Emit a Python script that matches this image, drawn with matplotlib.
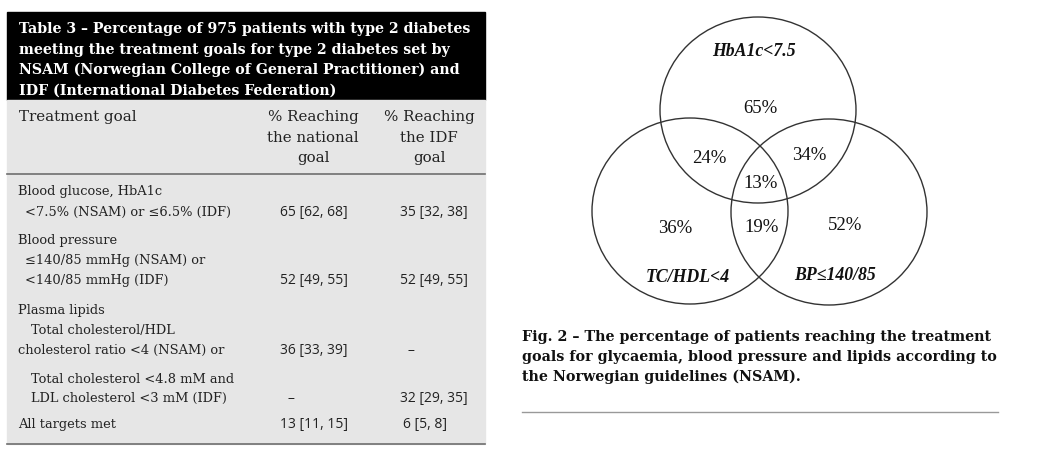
import matplotlib
matplotlib.use('Agg')
import matplotlib.pyplot as plt
from matplotlib.patches import Rectangle, Ellipse

# ---- data ----
title_lines = ['Table 3 \u2013 Percentage of 975 patients with type 2 diabetes',
               'meeting the treatment goals for type 2 diabetes set by',
               'NSAM (Norwegian College of General Practitioner) and',
               'IDF (International Diabetes Federation)']
col_heads = ['Treatment goal', '% Reaching\nthe national\ngoal', '% Reaching\nthe IDF\ngoal']

# (text, indent, y) for the goal column
goal_lines = [('Blood glucose, HbA1c', 0, 191),
              ('<7.5% (NSAM) or \u22646.5% (IDF)', 1, 212),
              ('Blood pressure', 0, 240),
              ('\u2264140/85 mmHg (NSAM) or', 1, 260),
              ('<140/85 mmHg (IDF)', 1, 280),
              ('Plasma lipids', 0, 310),
              ('Total cholesterol/HDL', 2, 330),
              ('cholesterol ratio <4 (NSAM) or', 0, 350),
              ('Total cholesterol <4.8 mM and', 2, 379),
              ('LDL cholesterol <3 mM (IDF)', 2, 398),
              ('All targets met', 0, 424)]
national = ['65 [62, 68]', '52 [49, 55]', '36 [33, 39]', '\u2013', '13 [11, 15]']
idf = ['35 [32, 38]', '52 [49, 55]', '\u2013', '32 [29, 35]', '6 [5, 8]']
value_rows_y = [212, 280, 350, 398, 424]

venn_sets = ['HbA1c<7.5', 'TC/HDL<4', 'BP\u2264140/85']
venn_pct = {'A': 65, 'AB': 24, 'AC': 34, 'ABC': 13, 'B': 36, 'BC': 19, 'C': 52}

caption = ['Fig. 2 \u2013 The percentage of patients reaching the treatment',
           'goals for glycaemia, blood pressure and lipids according to',
           'the Norwegian guidelines (NSAM).']

# ---- figure ----
fig = plt.figure(figsize=(10.51, 4.65), dpi=100)
ax = fig.add_axes([0, 0, 1, 1])
ax.set_xlim(0, 1051)
ax.set_ylim(465, 0)
ax.axis('off')

serif = 'DejaVu Serif'
sans = 'Open Sans'
ink = '#222222'

# table boxes
ax.add_patch(Rectangle((7, 12), 478, 88, color='black', zorder=1))
ax.add_patch(Rectangle((7, 100), 478, 344, color='#e6e6e6', zorder=1))
ax.plot([7, 485], [174, 174], color='#6e6e6e', lw=1.2, zorder=2)
ax.plot([7, 485], [444, 444], color='#6e6e6e', lw=1.2, zorder=2)

for i, line in enumerate(title_lines):
    ax.text(19, 29.5 + i * 20.3, line, color='white', fontsize=10.2, fontweight='bold',
            family=serif, va='center', ha='left')

ax.text(19, 117, col_heads[0], fontsize=10.9, family=serif, va='center', color=ink)
for cx, head in zip([313, 429], col_heads[1:]):
    for j, part in enumerate(head.split('\n')):
        ax.text(cx, 117 + j * 20.5, part, fontsize=10.8, family=serif, va='center',
                ha='center', color=ink)

indents = [18, 25, 31]
for text, indent, y in goal_lines:
    ax.text(indents[indent], y, text, fontsize=9.4, family=serif, va='center', color=ink)

for y, a, b in zip(value_rows_y, national, idf):
    xa = 287 if a == '\u2013' else 280
    xb = 407 if b == '\u2013' else (403 if len(b) < 10 else 400)
    ax.text(xa, y, a, fontsize=10, family=sans, va='center', color=ink)
    ax.text(xb, y, b, fontsize=10, family=sans, va='center', color=ink)

# venn diagram
rx, ry = 98, 93
centers = {'A': (758, 110), 'B': (690, 211), 'C': (829, 212)}
for k in 'ABC':
    ax.add_patch(Ellipse(centers[k], 2 * rx, 2 * ry, fill=False, ec='#333333', lw=1.0, zorder=3))

vfont = 'Liberation Serif'
set_pos = [(754, 51), (688, 277), (835, 275)]
for name, (x, y) in zip(venn_sets, set_pos):
    ax.text(x, y, name, fontsize=12.8, family=vfont, fontweight='bold', style='italic',
            ha='center', va='center', color='#111111')
pct_pos = {'A': (760, 108), 'AB': (709, 158), 'AC': (809, 155), 'ABC': (761, 183),
           'B': (675, 228), 'BC': (762, 227), 'C': (845, 225)}
for k, v in venn_pct.items():
    x, y = pct_pos[k]
    ax.text(x, y, f'{v}%', fontsize=13.5, family=vfont, ha='center', va='center', color='#111111')

for i, line in enumerate(caption):
    ax.text(522, 337 + i * 20, line, fontsize=10.3, fontweight='bold', family=serif,
            va='center', ha='left', color='#111111')
ax.plot([522, 998], [412, 412], color='#999999', lw=1.0)

fig.savefig('out.png', dpi=100)
